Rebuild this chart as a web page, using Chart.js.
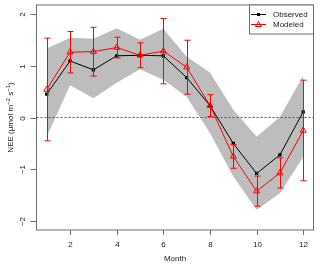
<!DOCTYPE html>
<html lang="en">
<head>
    <meta charset="UTF-8">
    <title>NEE observed vs modeled</title>
    <script src="https://cdn.jsdelivr.net/npm/chart.js"></script>
    <style>
        html, body {
            margin: 0;
            padding: 0;
            background: #fff;
        }
        .chart-container {
            width: 320px;
            height: 266px;
        }
    </style>
</head>
<body>
    <div class="chart-container">
        <canvas id="neeChart" width="320" height="266"></canvas>
    </div>

    <script>
        const months = [1, 2, 3, 4, 5, 6, 7, 8, 9, 10, 11, 12];
        const observed = [0.45, 1.09, 0.92, 1.19, 1.20, 1.19, 0.77, 0.23, -0.50, -1.08, -0.72, 0.11];
        const modeled = [0.54, 1.26, 1.27, 1.35, 1.20, 1.28, 0.97, 0.23, -0.75, -1.42, -1.07, -0.25];
        const modeledErr = [0.99, 0.40, 0.47, 0.20, 0.24, 0.63, 0.52, 0.21, 0.23, 0.29, 0.29, 0.97];
        const bandUpper = [1.33, 1.54, 1.52, 1.72, 1.50, 1.71, 1.17, 0.87, 0.15, -0.37, 0.01, 0.81];
        const bandLower = [-0.37, 0.62, 0.37, 0.67, 0.93, 0.73, 0.40, -0.30, -1.14, -1.78, -1.46, -0.76];
        const xTicks = [2, 4, 6, 8, 10, 12];
        const yTicks = [-2, -1, 0, 1, 2];
        const xRange = [0.56, 12.44];
        const yRange = [-2.17, 2.17];

        const FONT = '"Liberation Sans", Arial, Helvetica, sans-serif';
        const AXIS_COL = '#6e6e6e';
        const TEXT_COL = '#1a1a1a';

        const pts = vals => months.map((m, i) => ({ x: m, y: vals[i] }));

        // R-style box, ticks, rotated y labels, legend
        const rAxes = {
            id: 'rAxes',
            afterDatasetsDraw(chart) {
                const ctx = chart.ctx;
                const xs = chart.scales.x;
                const ys = chart.scales.y;
                ctx.save();
                ctx.strokeStyle = 'red';
                ctx.lineWidth = 1;
                months.forEach((m, i) => {
                    const px = Math.round(xs.getPixelForValue(m)) + 0.5;
                    const top = ys.getPixelForValue(modeled[i] + modeledErr[i]);
                    const bot = ys.getPixelForValue(modeled[i] - modeledErr[i]);
                    ctx.beginPath();
                    ctx.moveTo(px, top);
                    ctx.lineTo(px, bot);
                    ctx.moveTo(px - 3, top);
                    ctx.lineTo(px + 3, top);
                    ctx.moveTo(px - 3, bot);
                    ctx.lineTo(px + 3, bot);
                    ctx.stroke();
                });
                ctx.restore();
            },
            afterDraw(chart) {
                const ctx = chart.ctx;
                const a = chart.chartArea;
                const xs = chart.scales.x;
                const ys = chart.scales.y;
                ctx.save();
                ctx.strokeStyle = AXIS_COL;
                ctx.lineWidth = 1;
                ctx.strokeRect(a.left, a.top, a.right - a.left, a.bottom - a.top);

                ctx.fillStyle = TEXT_COL;
                ctx.font = '8px ' + FONT;
                ctx.textAlign = 'center';
                ctx.textBaseline = 'middle';

                // x axis
                xTicks.forEach(v => {
                    const px = Math.round(xs.getPixelForValue(v)) + 0.5;
                    ctx.beginPath();
                    ctx.moveTo(px, a.bottom);
                    ctx.lineTo(px, a.bottom + 5);
                    ctx.stroke();
                    ctx.fillText(String(v), px, 245);
                });
                ctx.fillText('Month', (a.left + a.right) / 2, 259);

                // y axis
                yTicks.forEach(v => {
                    const py = Math.round(ys.getPixelForValue(v)) + 0.5;
                    ctx.beginPath();
                    ctx.moveTo(a.left - 6, py);
                    ctx.lineTo(a.left, py);
                    ctx.stroke();
                    ctx.save();
                    ctx.translate(22.5, py);
                    ctx.rotate(-Math.PI / 2);
                    ctx.fillText(v < 0 ? '\u2212' + Math.abs(v) : String(v), 0, 0);
                    ctx.restore();
                });

                // y title with superscripts
                const parts = [
                    ['NEE (\u03bcmol m', false], ['\u22122', true],
                    [' s', false], ['\u22121', true], [')', false]
                ];
                const big = '8px ' + FONT, small = '6px ' + FONT;
                let total = 0;
                parts.forEach(p => { ctx.font = p[1] ? small : big; total += ctx.measureText(p[0]).width; });
                ctx.save();
                ctx.translate(11, (a.top + a.bottom) / 2);
                ctx.rotate(-Math.PI / 2);
                ctx.textAlign = 'left';
                let cx = -total / 2;
                parts.forEach(p => {
                    ctx.font = p[1] ? small : big;
                    ctx.fillText(p[0], cx, p[1] ? -3 : 0);
                    cx += ctx.measureText(p[0]).width;
                });
                ctx.restore();

                // legend
                const lx = 249.5, ly = a.top, lw = a.right - 249.5, lh = 29;
                ctx.fillStyle = '#fff';
                ctx.fillRect(lx, ly, lw, lh);
                ctx.strokeRect(lx, ly, lw, lh);
                ctx.font = '8px ' + FONT;
                ctx.textAlign = 'left';
                ctx.fillStyle = TEXT_COL;
                // observed entry
                ctx.strokeStyle = '#000';
                ctx.beginPath();
                ctx.moveTo(251, 14.5);
                ctx.lineTo(266, 14.5);
                ctx.stroke();
                ctx.fillStyle = '#000';
                ctx.fillRect(257, 13, 3, 3);
                ctx.fillStyle = TEXT_COL;
                ctx.fillText('Observed', 273, 15);
                // modeled entry
                ctx.strokeStyle = 'red';
                ctx.beginPath();
                ctx.moveTo(251, 24.5);
                ctx.lineTo(266, 24.5);
                ctx.moveTo(258.5, 21.5);
                ctx.lineTo(261.5, 26.5);
                ctx.lineTo(255.5, 26.5);
                ctx.closePath();
                ctx.stroke();
                ctx.fillText('Modeled', 273, 25);
                ctx.restore();
            }
        };

        new Chart(document.getElementById('neeChart'), {
            type: 'line',
            data: {
                datasets: [
                    {
                        label: 'Modeled',
                        data: pts(modeled),
                        borderColor: 'red',
                        borderWidth: 1,
                        pointStyle: 'triangle',
                        pointRadius: 3.5,
                        pointBorderColor: 'red',
                        pointBackgroundColor: 'rgba(0,0,0,0)',
                        pointBorderWidth: 1,
                        fill: false,
                        order: 0
                    },
                    {
                        label: 'Observed',
                        data: pts(observed),
                        borderColor: '#000',
                        borderWidth: 1,
                        pointStyle: 'rect',
                        pointRadius: 2.3,
                        pointBackgroundColor: '#000',
                        pointBorderColor: '#000',
                        pointBorderWidth: 0,
                        fill: false,
                        order: 1
                    },
                    {
                        label: 'zero',
                        data: [{ x: xRange[0], y: 0 }, { x: xRange[1], y: 0 }],
                        borderColor: '#555',
                        borderWidth: 1,
                        borderDash: [2, 2],
                        pointRadius: 0,
                        fill: false,
                        order: 2
                    },
                    {
                        label: 'upper',
                        data: pts(bandUpper),
                        borderWidth: 0,
                        borderColor: 'rgba(0,0,0,0)',
                        backgroundColor: '#bdbdbd',
                        pointRadius: 0,
                        fill: '+1',
                        order: 3
                    },
                    {
                        label: 'lower',
                        data: pts(bandLower),
                        borderWidth: 0,
                        borderColor: 'rgba(0,0,0,0)',
                        pointRadius: 0,
                        fill: false,
                        order: 3
                    }
                ]
            },
            options: {
                responsive: false,
                animation: false,
                devicePixelRatio: 1,
                layout: { padding: { left: 36.5, right: 6.5, top: 4.5, bottom: 36 } },
                plugins: {
                    legend: { display: false },
                    tooltip: { enabled: false }
                },
                scales: {
                    x: { type: 'linear', min: xRange[0], max: xRange[1], display: false },
                    y: { type: 'linear', min: yRange[0], max: yRange[1], display: false }
                }
            },
            plugins: [rAxes]
        });
    </script>
</body>
</html>
